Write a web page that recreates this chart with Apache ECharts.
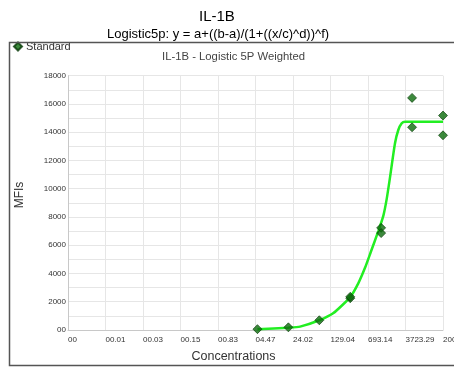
<!DOCTYPE html>
<html><head><meta charset="utf-8">
<script src="https://cdn.jsdelivr.net/npm/echarts@6/dist/echarts.min.js"></script>
<style>html,body{margin:0;padding:0;background:#fff}#c{width:454px;height:368px}</style>
</head><body><div id="c"></div>
<script>
// Axis ticks (log-spaced concentration scale, ratio between ticks constant)
const xTickLabels = ['00','00.01','00.03','00.15','00.83','04.47','24.02','129.04','693.14','3723.29','20000.00'];
const xTopConc = 20000;
const xTickRatio = 20000 / 3723.29;
const yTickLabels = {0:'00',2000:'2000',4000:'4000',6000:'6000',8000:'8000',10000:'10000',12000:'12000',14000:'14000',16000:'16000',18000:'18000'};

// Standards (concentration, MFI)
const stdConc = [4.88, 19.53, 78.13, 312.5, 312.5, 1250, 1250, 5000, 5000, 20000, 20000];
const stdMFI  = [60, 190, 690, 2250, 2350, 7230, 6860, 16430, 14350, 15180, 13780];

// Fitted curve
const fitConc = [4.88, 19.5, 33.0, 78.1, 145, 312, 448, 606, 782, 1100, 1381, 1607, 1859, 2325, 2696, 3142, 3642, 20000];
const fitMFI  = [55, 165, 240, 690, 1180, 2330, 3300, 4400, 5500, 7000, 8100, 9300, 10800, 13215, 14156, 14630, 14743, 14743];

const toPos = c => 10 + Math.log(c / xTopConc) / Math.log(xTickRatio);

const chart = echarts.init(document.getElementById('c'), null, {renderer:'canvas'});
chart.setOption({
  animation:false,
  backgroundColor:'#fff',
  title:[
    {text:'IL-1B', left:194, top:4, textStyle:{fontFamily:'Liberation Sans, Arial', fontSize:15, fontWeight:'normal', color:'#000'}},
    {text:'Logistic5p: y = a+((b-a)/(1+((x/c)^d))^f)', left:102, top:23, textStyle:{fontFamily:'Liberation Sans, Arial', fontSize:13, fontWeight:'normal', color:'#000'}},
    {text:'IL-1B - Logistic 5P Weighted', left:157, top:46, textStyle:{fontFamily:'Liberation Sans, Arial', fontSize:11.3, fontWeight:'normal', color:'#444'}}
  ],
  legend:{
    left:13, top:41, itemWidth:8, itemHeight:8, itemGap:4, padding:0,
    data:[{name:'Standard', icon:'diamond'}],
    textStyle:{fontFamily:'Liberation Sans, Arial', fontSize:11, color:'#333', padding:[0,0,0,-1]}
  },
  grid:{left:68, right:11, top:75.7, bottom:38, containLabel:false, outerBoundsMode:'none'},
  xAxis:{
    type:'value', min:0, max:10, interval:1,
    axisLine:{show:true, lineStyle:{color:'#c8c8c8'}},
    axisTick:{show:false},
    splitLine:{show:true, lineStyle:{color:'#e6e6e6'}},
    axisLabel:{
      fontFamily:'Liberation Sans, Arial', fontSize:8, color:'#333', align:'left', margin:6,
      formatter:v => xTickLabels[Math.round(v)] || ''
    }
  },
  yAxis:{
    type:'value', min:0, max:18000, interval:2000,
    axisLine:{show:true, lineStyle:{color:'#c8c8c8'}},
    axisTick:{show:false},
    splitLine:{show:true, lineStyle:{color:'#e6e6e6'}},
    minorTick:{show:false, splitNumber:2},
    minorSplitLine:{show:true, lineStyle:{color:'#e6e6e6'}},
    axisLabel:{fontFamily:'Liberation Sans, Arial', fontSize:8, color:'#333', margin:2,
      formatter:v => (yTickLabels[v] !== undefined ? yTickLabels[v] : '')}
  },
  graphic:[
    {type:'rect', z:100, shape:{x:9.5, y:42.5, width:460, height:323}, style:{fill:'none', stroke:'#555', lineWidth:1.5}},
    {type:'text', z:100, x:233.5, y:357, style:{text:'Concentrations', font:'12.5px "Liberation Sans", Arial', fill:'#333', textAlign:'center', textVerticalAlign:'middle'}},
    {type:'text', z:100, x:20, y:195, rotation:Math.PI/2, style:{text:'MFIs', font:'12px "Liberation Sans", Arial', fill:'#333', textAlign:'center', textVerticalAlign:'middle'}}
  ],
  series:[
    {
      name:'Fit', type:'line', showSymbol:false, symbol:'none', smooth:0.2,
      data: fitConc.map((c,i)=>[toPos(c), fitMFI[i]]),
      lineStyle:{color:'#22ee22', width:2.5}, z:2, silent:true
    },
    {
      name:'Standard', type:'scatter', symbol:'diamond', symbolSize:9,
      data: stdConc.map((c,i)=>[toPos(c), stdMFI[i]]),
      itemStyle:{color:'#0b6b0b', borderColor:'#063806', borderWidth:0.8}, z:3
    }
  ]
});
</script></body></html>
